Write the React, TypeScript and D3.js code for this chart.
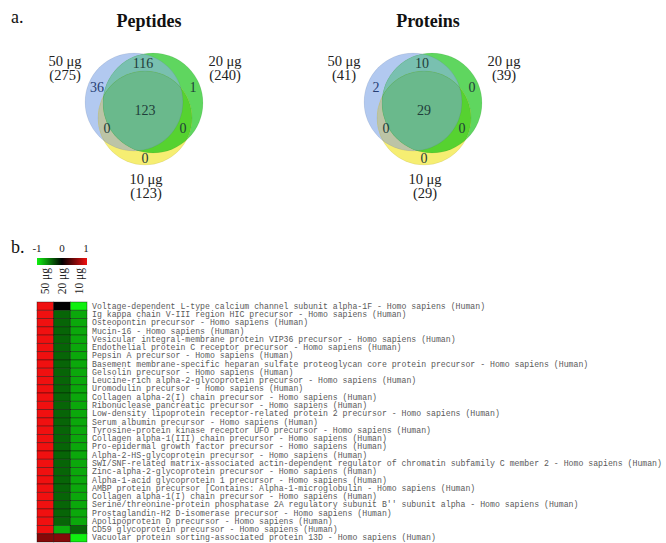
import React from "react";
import * as d3 from "d3";

// ---- Venn data ----
const sampleNames = ["50 μg", "20 μg", "10 μg"];
const peptideTotals = [275, 240, 123];
const proteinTotals = [41, 39, 29];
// region order: A only, B only, C only, A∩B, A∩C, B∩C, A∩B∩C  (A=50, B=20, C=10)
const regionKeys = ["A", "B", "C", "AB", "AC", "BC", "ABC"];
const peptideRegions = [36, 1, 0, 116, 0, 0, 123];
const proteinRegions = [2, 0, 0, 10, 0, 0, 29];

// ---- Heatmap data ----
const heatColumns = ["50 μg", "20 μg", "10 μg"];
const proteinNames = [
  "Voltage-dependent L-type calcium channel subunit alpha-1F - Homo sapiens (Human)",
  "Ig kappa chain V-III region HIC precursor - Homo sapiens (Human)",
  "Osteopontin precursor - Homo sapiens (Human)",
  "Mucin-16 - Homo sapiens (Human)",
  "Vesicular integral-membrane protein VIP36 precursor - Homo sapiens (Human)",
  "Endothelial protein C receptor precursor - Homo sapiens (Human)",
  "Pepsin A precursor - Homo sapiens (Human)",
  "Basement membrane-specific heparan sulfate proteoglycan core protein precursor - Homo sapiens (Human)",
  "Gelsolin precursor - Homo sapiens (Human)",
  "Leucine-rich alpha-2-glycoprotein precursor - Homo sapiens (Human)",
  "Uromodulin precursor - Homo sapiens (Human)",
  "Collagen alpha-2(I) chain precursor - Homo sapiens (Human)",
  "Ribonuclease pancreatic precursor - Homo sapiens (Human)",
  "Low-density lipoprotein receptor-related protein 2 precursor - Homo sapiens (Human)",
  "Serum albumin precursor - Homo sapiens (Human)",
  "Tyrosine-protein kinase receptor UFO precursor - Homo sapiens (Human)",
  "Collagen alpha-1(III) chain precursor - Homo sapiens (Human)",
  "Pro-epidermal growth factor precursor - Homo sapiens (Human)",
  "Alpha-2-HS-glycoprotein precursor - Homo sapiens (Human)",
  "SWI/SNF-related matrix-associated actin-dependent regulator of chromatin subfamily C member 2 - Homo sapiens (Human)",
  "Zinc-alpha-2-glycoprotein precursor - Homo sapiens (Human)",
  "Alpha-1-acid glycoprotein 1 precursor - Homo sapiens (Human)",
  "AMBP protein precursor [Contains: Alpha-1-microglobulin - Homo sapiens (Human)",
  "Collagen alpha-1(I) chain precursor - Homo sapiens (Human)",
  "Serine/threonine-protein phosphatase 2A regulatory subunit B'' subunit alpha - Homo sapiens (Human)",
  "Prostaglandin-H2 D-isomerase precursor - Homo sapiens (Human)",
  "Apolipoprotein D precursor - Homo sapiens (Human)",
  "CD59 glycoprotein precursor - Homo sapiens (Human)",
  "Vacuolar protein sorting-associated protein 13D - Homo sapiens (Human)",
];
const values50 = [1, 1, 1, 1, 1, 1, 1, 1, 1, 1, 1, 1, 1, 1, 1, 1, 1, 1, 1, 1, 1, 1, 1, 1, 1, 1, 1, 1, 0.56];
const values20 = [0, -0.42, -0.42, -0.42, -0.42, -0.42, -0.42, -0.42, -0.42, -0.42, -0.42, -0.42, -0.42, -0.42, -0.42, -0.42, -0.42, -0.42, -0.42, -0.42, -0.42, -0.42, -0.42, -0.42, -0.42, -0.42, -0.42, -0.72, 0.56];
const values10 = [-1, -0.7, -0.7, -0.7, -0.7, -0.7, -0.7, -0.7, -0.7, -0.7, -0.7, -0.7, -0.7, -0.7, -0.7, -0.7, -0.7, -0.7, -0.7, -0.7, -0.7, -0.7, -0.7, -0.7, -0.7, -0.7, -0.7, -0.42, -1];
const scaleTicks = [-1, 0, 1];

const serif = "'Liberation Serif', 'Times New Roman', serif";
const mono = "'Liberation Mono', 'Courier New', monospace";

const regionFill: Record<string, string> = {
  A: "#b2c9f0",
  B: "#5fd65f",
  C: "#f6ee72",
  AB: "#79c0b0",
  AC: "#bcc4a6",
  BC: "#56d230",
  ABC: "#6ab98c",
};

// circle geometry relative to the diagram centre
const circleGeom = {
  A: { dx: -11, cy: 102, r: 49 },
  B: { dx: 8, cy: 103, r: 50 },
  C: { dx: 0, cy: 118, r: 47 },
};
// label anchor for each region count, relative to the centre
const regionPos: Record<string, [number, number]> = {
  A: [-48, 92],
  B: [48, 92],
  C: [0, 163],
  AB: [-2, 68],
  AC: [-38, 133],
  BC: [38, 133],
  ABC: [0, 115],
};

function Venn({ id, cx, title, totals, regions }: { id: string; cx: number; title: string; totals: number[]; regions: number[] }) {
  const circ = (k: "A" | "B" | "C", fill: string, extra: any = {}) => (
    <circle cx={cx + circleGeom[k].dx} cy={circleGeom[k].cy} r={circleGeom[k].r} fill={fill} {...extra} />
  );
  const countOf = d3.index(regionKeys.map((k, i) => ({ k, v: regions[i] })), (d) => d.k);
  return (
    <g>
      <defs>
        {(["A", "B", "C"] as const).map((k) => (
          <clipPath id={`${id}-${k}`} key={k}>
            <circle cx={cx + circleGeom[k].dx} cy={circleGeom[k].cy} r={circleGeom[k].r} />
          </clipPath>
        ))}
      </defs>
      {circ("A", regionFill.A)}
      {circ("B", regionFill.B)}
      {circ("C", regionFill.C)}
      {circ("A", regionFill.AB, { clipPath: `url(#${id}-B)` })}
      {circ("A", regionFill.AC, { clipPath: `url(#${id}-C)` })}
      {circ("B", regionFill.BC, { clipPath: `url(#${id}-C)` })}
      <g clipPath={`url(#${id}-A)`}>{circ("C", regionFill.ABC, { clipPath: `url(#${id}-B)` })}</g>
      {(["A", "B", "C"] as const).map((k) => (
        <circle key={k} cx={cx + circleGeom[k].dx} cy={circleGeom[k].cy} r={circleGeom[k].r} fill="none" stroke="#000" strokeOpacity={0.06} strokeWidth={1} />
      ))}
      {regionKeys.map((k) => (
        <text key={k} x={cx + regionPos[k][0]} y={regionPos[k][1]} textAnchor="middle" fontFamily={serif} fontSize={14} fill={k === "A" ? "#263e74" : "#1f3d3a"}>
          {countOf.get(k)!.v}
        </text>
      ))}
      <text x={cx + 4} y={27} textAnchor="middle" fontFamily={serif} fontWeight="bold" fontSize={18} fill="#111">{title}</text>
      {[
        { x: cx - 80, y: 66 },
        { x: cx + 80, y: 66 },
        { x: cx + 1, y: 184 },
      ].map((p, i) => (
        <g key={i} fontFamily={serif} fontSize={14.5} fill="#222" textAnchor="middle">
          <text x={p.x} y={p.y}>{sampleNames[i]}</text>
          <text x={p.x} y={p.y + 14}>({totals[i]})</text>
        </g>
      ))}
    </g>
  );
}

export default function App() {
  const rows = proteinNames.map((name, i) => ({ name, vals: [values50[i], values20[i], values10[i]] }));
  const x = d3.scaleBand<string>().domain(heatColumns).range([37, 87]);
  const y = d3.scaleBand<number>().domain(d3.range(rows.length)).range([302, 542]);
  const color = d3.scaleLinear<string>().domain([-1, 0, 1]).range(["#10f010", "#000000", "#f01010"]);
  const bar = d3.scaleLinear().domain([-1, 1]).range([37, 87]);

  return (
    <svg width={666} height={543} style={{ position: "absolute", left: 0, top: 0, background: "#fff" }}>
      <rect width={666} height={543} fill="#fff" />
      <text x={11} y={23} fontFamily={serif} fontSize={18} fill="#111">a.</text>
      <Venn id="pep" cx={145} title="Peptides" totals={peptideTotals} regions={peptideRegions} />
      <Venn id="prot" cx={424} title="Proteins" totals={proteinTotals} regions={proteinRegions} />

      <text x={11} y={253} fontFamily={serif} fontSize={18} fill="#111">b.</text>
      <defs>
        <linearGradient id="heatScale" x1="0" x2="1" y1="0" y2="0">
          {[-1, -0.5, 0, 0.5, 1].map((v) => (
            <stop key={v} offset={`${((v + 1) / 2) * 100}%`} stopColor={color(v)} />
          ))}
        </linearGradient>
      </defs>
      <rect x={bar(-1)} y={258} width={bar(1) - bar(-1)} height={7} fill="url(#heatScale)" />
      {scaleTicks.map((t) => (
        <text key={t} x={bar(t) + (t === 1 ? -1 : 0)} y={252} textAnchor="middle" fontFamily={serif} fontSize={11} fill="#222">
          {t}
        </text>
      ))}
      {heatColumns.map((c) => (
        <text key={c} transform={`translate(${x(c)! + x.bandwidth() / 2},268) rotate(-90)`} textAnchor="end" dy="0.35em" fontFamily={serif} fontSize={11.5} fill="#222">
          {c}
        </text>
      ))}
      {rows.map((r, i) => (
        <g key={i}>
          {r.vals.map((v, j) => (
            <rect key={j} x={x(heatColumns[j])} y={y(i)} width={x.bandwidth()} height={y.bandwidth()} fill={color(v)} stroke="#000" strokeOpacity={0.45} strokeWidth={0.8} />
          ))}
          <text x={92} y={y(i)! + y.bandwidth() / 2 + 2.6} fontFamily={mono} fontSize={8.2} fill="#5a5a5a">
            {r.name}
          </text>
        </g>
      ))}
    </svg>
  );
}
